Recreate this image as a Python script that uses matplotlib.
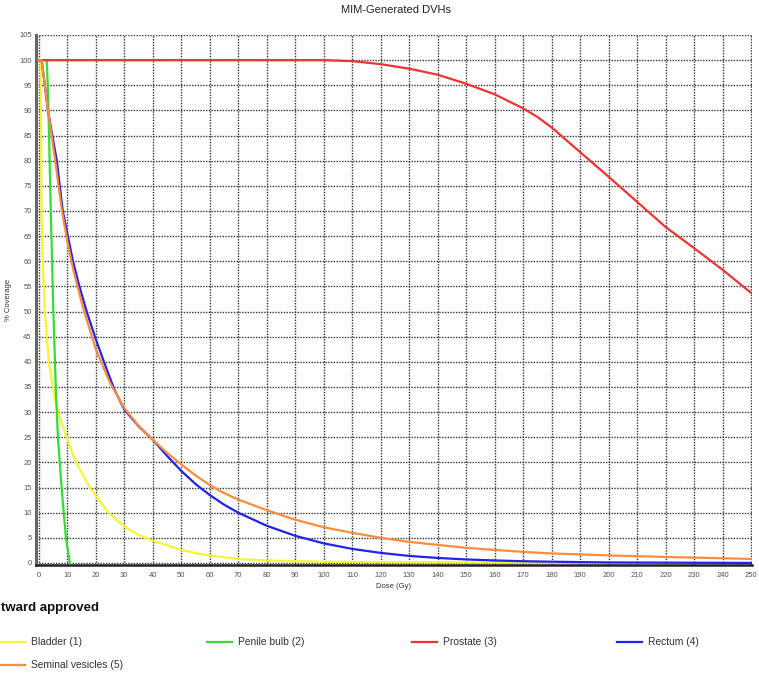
import matplotlib.pyplot as plt
from matplotlib.lines import Line2D

plt.rcParams['font.family'] = ['Liberation Sans', 'DejaVu Sans']

# DVH curves: dose (Gy) -> % coverage
bladder_dose = [0, 0.6, 0.8, 1.0, 1.5, 2.1, 3.5, 5.5, 7, 9.8, 12, 14, 17.9, 20, 24.5, 30, 35, 40,
                50, 56.5, 60, 70, 80, 90, 100, 120, 150, 200, 250]
bladder_cov = [100, 100, 85, 68, 58, 50, 40, 33, 29.5, 25, 21.5, 19, 15, 13.3, 10, 7.2, 5.6, 4.4,
               2.6, 1.8, 1.5, 0.8, 0.5, 0.35, 0.25, 0.15, 0.1, 0.05, 0.02]

penile_dose = [0, 2.8, 3.3, 4.2, 5.1, 6.0, 6.7, 8.0, 9.5, 10.9]
penile_cov = [100, 100, 92, 70, 50, 34, 25, 15, 5, 0]

prostate_dose = [0, 100, 110, 120, 130, 140, 150, 160, 170, 175, 180, 190, 200, 210, 220, 230,
                 240, 250]
prostate_cov = [100, 100, 99.8, 99.2, 98.3, 97.1, 95.3, 93.2, 90.4, 88.7, 86.6, 81.7, 76.8, 71.8,
                66.8, 62.6, 58.3, 53.7]

rectum_dose = [0, 1, 3.2, 6.3, 8.4, 10, 12, 14, 16.8, 20, 23.5, 26.5, 30, 35, 40, 45, 50, 55,
               60, 65, 70, 80, 90, 100, 110, 120, 130, 140, 150, 160, 170, 180, 200, 250]
rectum_cov = [100, 100, 90, 80, 70, 65.5, 60, 55.5, 50, 44.5, 39, 34.5, 30.5, 27.2, 24.5, 21.3,
              18.3, 15.7, 13.5, 11.6, 10, 7.4, 5.4, 3.9, 2.8, 2.0, 1.4, 1.0, 0.7, 0.5, 0.35,
              0.25, 0.1, 0]

sv_dose = [0, 1, 3, 6, 8.1, 10, 12, 15.4, 20, 25, 30, 35, 40, 45, 50, 55, 60, 65, 70, 80, 90,
           100, 110, 120, 130, 140, 150, 160, 170, 180, 190, 200, 220, 250]
sv_cov = [100, 100, 91, 79, 70, 64, 58.5, 51, 42.5, 35.8, 30.8, 27.3, 24.5, 21.9, 19.6, 17.4,
          15.5, 13.9, 12.6, 10.5, 8.6, 7.1, 6.0, 5.0, 4.2, 3.6, 3.0, 2.6, 2.2, 1.9, 1.7, 1.5,
          1.2, 0.8]

names = ['Bladder (1)', 'Penile bulb (2)', 'Prostate (3)', 'Rectum (4)', 'Seminal vesicles (5)']
colors = ['#f5f532', '#33dd33', '#ee3333', '#2222ee', '#ff8c3a']
doses = [bladder_dose, penile_dose, prostate_dose, rectum_dose, sv_dose]
covs = [bladder_cov, penile_cov, prostate_cov, rectum_cov, sv_cov]

fig = plt.figure(figsize=(7.59, 6.73), dpi=100)
ax = fig.add_axes([0.0474, 0.1605, 0.9434, 0.7875])

for d, c, col in zip(doses, covs, colors):
    ax.plot(d, c, color=col, lw=1.6, zorder=3, solid_joinstyle='round')

ax.set_xlim(-1, 250.3)
ax.set_ylim(-0.4, 105)
ax.set_xticks(range(0, 251, 10))
ax.set_yticks(range(0, 106, 5))
ax.grid(True, color='#333333', linestyle=(0, (1, 1)), lw=1.0)
ax.tick_params(length=0, labelsize=5.5, labelcolor='#555555')
ax.tick_params(axis='x', pad=5)
ax.tick_params(axis='y', pad=3)
for s in ['top', 'right']:
    ax.spines[s].set_visible(False)
ax.spines['left'].set_color('#666666')
ax.spines['left'].set_linewidth(2.2)
ax.spines['bottom'].set_color('#222222')
ax.spines['bottom'].set_linewidth(1.8)

ax.set_xlabel('Dose (Gy)', fontsize=5.5, color='#333333', labelpad=3)
ax.set_ylabel('% Coverage', fontsize=5.5, color='#333333', labelpad=5)

fig.text(0.522, 0.993, 'MIM-Generated DVHs', ha='center', va='top', fontsize=8, color='#222222')

# legend block under the chart
fig.text(0.001, 0.097, 'tward approved', ha='left', va='center', fontsize=9.5,
         fontweight='bold', color='#111111')
leg_x = [0.0, 0.2727, 0.5428, 0.8129, 0.0]
leg_y = [0.046, 0.046, 0.046, 0.046, 0.012]
for name, col, lx, ly in zip(names, colors, leg_x, leg_y):
    fig.add_artist(Line2D([lx, lx + 0.033], [ly, ly], color=col, lw=1.6,
                          transform=fig.transFigure))
    fig.text(lx + 0.041, ly, name, ha='left', va='center', fontsize=7.4, color='#333333')

fig.savefig('out.png', dpi=100)
